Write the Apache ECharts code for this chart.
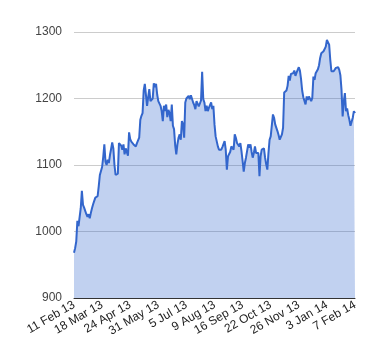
<!DOCTYPE html>
<html>
<head>
<meta charset="utf-8">
<script src="https://cdn.jsdelivr.net/npm/echarts@6/dist/echarts.min.js"></script>
<style>
html,body{margin:0;padding:0;background:#fff;}
#chart{width:380px;height:360px;}
</style>
</head>
<body>
<div id="chart"></div>
<script>
var tickLabels = ['11 Feb 13','18 Mar 13','24 Apr 13','31 May 13','5 Jul 13','9 Aug 13','16 Sep 13','22 Oct 13','26 Nov 13','3 Jan 14','7 Feb 14'];
var tickStep = 25;
var values = [
968,975,985,1016,1008,1010,1035,1061,1040,1036,
1033,1026,1022,1026,1020,1028,1035,1041,1046,1051,
1050,1053,1068,1085,1086,1097,1112,1131,1105,1100,
1108,1103,1115,1124,1134,1125,1100,1085,1084,1087,
1133,1132,1129,1123,1131,1116,1125,1128,1114,1149,
1139,1135,1132,1131,1130,1128,1133,1137,1141,1168,
1174,1178,1212,1222,1224,1189,1202,1214,1196,1197,
1200,1223,1217,1222,1206,1196,1193,1189,1181,1166,
1189,1181,1191,1172,1183,1178,1166,1191,1159,1154,
1130,1116,1131,1141,1146,1138,1166,1161,1141,1194,
1200,1202,1204,1199,1205,1206,1194,1190,1184,1196,
1194,1188,1186,1197,1240,1199,1194,1181,1189,1181,
1186,1189,1194,1184,1189,1161,1143,1146,1128,1123,
1126,1123,1127,1126,1136,1123,1093,1113,1111,1120,
1128,1128,1123,1146,1141,1133,1130,1128,1133,1121,
1106,1090,1103,1111,1111,1131,1126,1131,1120,1111,
1118,1128,1118,1116,1118,1083,1113,1123,1126,1125,
1111,1101,1093,1118,1138,1143,1145,1176,1171,1161,
1158,1151,1145,1138,1140,1146,1156,1209,1212,1212,
1219,1234,1227,1237,1234,1238,1242,1234,1239,1242,
1247,1242,1229,1212,1202,1199,1191,1203,1198,1203,
1200,1196,1201,1233,1228,1238,1241,1244,1250,1261,
1268,1266,1271,1273,1278,1288,1288,1281,1258,1241,
1243,1241,1244,1246,1248,1247,1243,1235,1213,1173,
1195,1208,1181,1185,1175,1168,1159,1165,1171,1181,
1178
];
var yTicks = [900,1000,1100,1200,1300];

var categories = values.map(function(_, i){ return String(i); });

var chart = echarts.init(document.getElementById('chart'), null, {renderer:'canvas'});
chart.setOption({
  animation:false,
  backgroundColor:'#ffffff',
  grid:{left:74, right:25, top:32, bottom:62},
  xAxis:{
    type:'category',
    data:categories,
    boundaryGap:false,
    axisLine:{show:true, lineStyle:{color:'#333333', width:1}},
    axisTick:{show:false},
    splitLine:{show:false},
    axisLabel:{
      interval:function(i){ return i % tickStep === 0; },
      formatter:function(v, i){ return tickLabels[Math.round(i / tickStep)] || ''; },
      rotate:30,
      margin:6,
      color:'#222222',
      fontFamily:'Liberation Sans, Arial, sans-serif',
      fontSize:12
    }
  },
  yAxis:{
    type:'value',
    min:yTicks[0], max:yTicks[yTicks.length-1], interval:100,
    axisLine:{show:false},
    axisTick:{show:false},
    splitLine:{show:true, lineStyle:{color:'#cccccc', width:1}},
    axisLabel:{
      margin:12,
      color:'#444444',
      fontFamily:'Liberation Sans, Arial, sans-serif',
      fontSize:12,
      formatter:function(v){ return String(v); }
    }
  },
  series:[{
    type:'line',
    data:values,
    showSymbol:false,
    symbol:'none',
    lineStyle:{color:'#3366cc', width:2},
    itemStyle:{color:'#3366cc'},
    areaStyle:{color:'#3366cc', opacity:0.3}
  }]
});
</script>
</body>
</html>
